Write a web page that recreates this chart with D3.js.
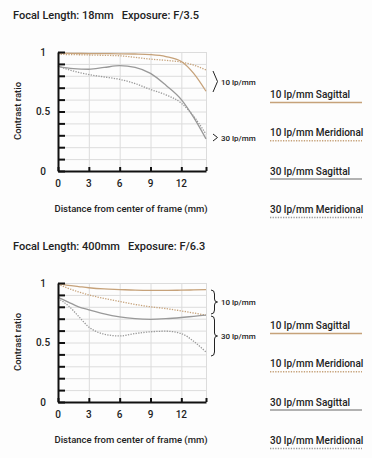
<!DOCTYPE html>
<html>
<head>
<meta charset="utf-8">
<script src="https://cdn.jsdelivr.net/npm/d3@7"></script>
<style>
  html, body { margin: 0; padding: 0; background: #fdfdfd; }
  svg { display: block; font-family: Roboto, "Liberation Sans", sans-serif; font-weight: 500; }
</style>
</head>
<body>
<div id="chart"></div>
<script>
// ---- data ----
const titles = ["Focal Length: 18mm   Exposure: F/3.5", "Focal Length: 400mm   Exposure: F/6.3"];
const legendLabels = ["10 lp/mm Sagittal", "10 lp/mm Meridional", "30 lp/mm Sagittal", "30 lp/mm Meridional"];
const xTickLabels = [0, 3, 6, 9, 12];
const yTickLabels = [0, 0.5, 1];

// chart 1: 18mm
const dist18 = [0, 1.5, 3, 4.5, 6, 7.5, 9, 10.5, 12, 13.2, 14.4];
const s10_18 = [0.99, 0.988, 0.987, 0.986, 0.985, 0.983, 0.978, 0.962, 0.92, 0.82, 0.67];
const m10_18 = [0.98, 0.978, 0.975, 0.972, 0.968, 0.955, 0.94, 0.93, 0.915, 0.89, 0.85];
const s30_18 = [0.88, 0.86, 0.855, 0.87, 0.885, 0.87, 0.82, 0.72, 0.6, 0.45, 0.27];
const m30_18 = [0.88, 0.84, 0.81, 0.79, 0.77, 0.735, 0.685, 0.64, 0.57, 0.46, 0.31];

// chart 2: 400mm
const dist400 = [0, 1, 2, 3, 4.5, 6, 7.5, 9, 10.5, 12, 13.2, 14.4];
const s10_400 = [0.995, 0.98, 0.97, 0.96, 0.95, 0.945, 0.94, 0.938, 0.938, 0.94, 0.942, 0.945];
const m10_400 = [0.99, 0.955, 0.925, 0.9, 0.87, 0.845, 0.82, 0.8, 0.785, 0.765, 0.748, 0.73];
const s30_400 = [0.88, 0.84, 0.8, 0.775, 0.74, 0.715, 0.7, 0.695, 0.7, 0.71, 0.72, 0.73];
const m30_400 = [0.87, 0.81, 0.72, 0.63, 0.57, 0.555, 0.575, 0.59, 0.595, 0.575, 0.51, 0.42];

const tan = "#c6a27a";
const gray = "#999999";
// style per series: 10S, 10M, 30S, 30M
const seriesStyle = [
  { color: tan, dash: null },
  { color: tan, dash: "1.3,1.3" },
  { color: gray, dash: null },
  { color: gray, dash: "1.3,1.3" },
];

const W = 372, H = 458;
const svg = d3.select("#chart").append("svg").attr("width", W).attr("height", H);

const x = d3.scaleLinear().domain([0, 14.4]).range([58, 206]);
const y = d3.scaleLinear().domain([0, 1]).range([171, 52]);

function drawChart(offsetY, title, dist, series, brackets) {
  const g = svg.append("g").attr("transform", `translate(0,${offsetY})`);

  g.append("text").attr("x", 13).attr("y", 19)
    .attr("font-size", 11).attr("fill", "#222")
    .attr("xml:space", "preserve")
    .text(title);

  // grid
  g.append("g").attr("transform", `translate(0,${y(0)})`)
    .call(d3.axisBottom(x).tickValues([3, 6, 9, 12, 14.4]).tickSize(-(y(0) - y(1))).tickFormat(""))
    .call((a) => a.select(".domain").remove())
    .selectAll("line").attr("stroke", "#dcdcdc");
  g.append("g").attr("transform", `translate(${x(0)},0)`)
    .call(d3.axisLeft(y).tickValues(d3.range(1, 11).map((d) => d / 10)).tickSize(-(x(14.4) - x(0))).tickFormat(""))
    .call((a) => a.select(".domain").remove())
    .selectAll("line").attr("stroke", "#dcdcdc");

  // curves
  const line = d3.line().x((d) => x(d[0])).y((d) => y(d[1])).curve(d3.curveMonotoneX);
  series.forEach((vals, i) => {
    g.append("path")
      .datum(dist.map((d, j) => [d, vals[j]]))
      .attr("d", line)
      .attr("fill", "none")
      .attr("stroke", seriesStyle[i].color)
      .attr("stroke-width", 1.3)
      .attr("stroke-dasharray", seriesStyle[i].dash);
  });

  // axes
  const yAxis = g.append("g").attr("transform", `translate(${x(0)},0)`)
    .call(d3.axisLeft(y).tickValues(d3.range(0, 11).map((d) => d / 10)).tickSize(-7).tickSizeOuter(0).tickFormat(""));
  yAxis.select(".domain").attr("stroke", "#111").attr("stroke-width", 2);
  yAxis.selectAll(".tick line").attr("stroke", "#111").attr("stroke-width", 2);

  const xAxis = g.append("g").attr("transform", `translate(0,${y(0)})`)
    .call(d3.axisBottom(x).tickValues([0, 3, 6, 9, 12, 14.4]).tickSize(-4).tickSizeOuter(0).tickFormat(""));
  xAxis.select(".domain").attr("stroke", "#111").attr("stroke-width", 2);
  xAxis.selectAll(".tick line").attr("stroke", "#111").attr("stroke-width", 2);

  g.selectAll(".ylab").data(yTickLabels).join("text")
    .attr("x", 43).attr("y", (d) => y(d) + 3.5)
    .attr("text-anchor", "middle").attr("font-size", 10).attr("fill", "#222")
    .text((d) => d);
  g.selectAll(".xlab").data(xTickLabels).join("text")
    .attr("x", (d) => x(d)).attr("y", y(0) + 16)
    .attr("text-anchor", "middle").attr("font-size", 10).attr("fill", "#222")
    .text((d) => d);

  g.append("text").attr("transform", "translate(21,111) rotate(-90)")
    .attr("text-anchor", "middle").attr("font-size", 9.5).attr("fill", "#222")
    .text("Contrast ratio");
  g.append("text").attr("x", 131).attr("y", 211.5)
    .attr("text-anchor", "middle").attr("font-size", 9.5).attr("fill", "#222")
    .text("Distance from center of frame (mm)");

  // brackets
  brackets.forEach((b) => {
    let d;
    if (b.curly) {
      const x0 = 211, x1 = 214.5, x2 = 217.5, ym = (b.y0 + b.y1) / 2;
      d = `M${x0},${b.y0} Q${x1},${b.y0} ${x1},${b.y0 + 4} L${x1},${ym - 3} Q${x1},${ym} ${x2},${ym} Q${x1},${ym} ${x1},${ym + 3} L${x1},${b.y1 - 4} Q${x1},${b.y1} ${x0},${b.y1}`;
    } else {
      const ym = (b.y0 + b.y1) / 2;
      d = `M213,${b.y0} L217.5,${ym} L213,${b.y1}`;
    }
    g.append("path").attr("d", d).attr("fill", "none").attr("stroke", "#222").attr("stroke-width", 1);
    g.append("text").attr("x", 221).attr("y", (b.y0 + b.y1) / 2 + 3)
      .attr("font-size", 8).attr("fill", "#222").text(b.label);
  });

  // legend
  legendLabels.forEach((lab, i) => {
    const ty = 98 + i * 38.3;
    g.append("text").attr("x", 270).attr("y", ty)
      .attr("font-size", 10).attr("fill", "#222").text(lab);
    g.append("line").attr("x1", 270).attr("x2", 362).attr("y1", ty + 4.5).attr("y2", ty + 4.5)
      .attr("stroke", seriesStyle[i].color).attr("stroke-width", 1.5)
      .attr("stroke-dasharray", seriesStyle[i].dash);
  });
}

drawChart(0, titles[0], dist18, [s10_18, m10_18, s30_18, m30_18], [
  { y0: 71, y1: 92, label: "10 lp/mm", curly: false },
  { y0: 134, y1: 141, label: "30 lp/mm", curly: false },
]);
drawChart(231, titles[1], dist400, [s10_400, m10_400, s30_400, m30_400], [
  { y0: 59, y1: 83, label: "10 lp/mm", curly: true },
  { y0: 85, y1: 125, label: "30 lp/mm", curly: true },
]);
</script>
</body>
</html>
